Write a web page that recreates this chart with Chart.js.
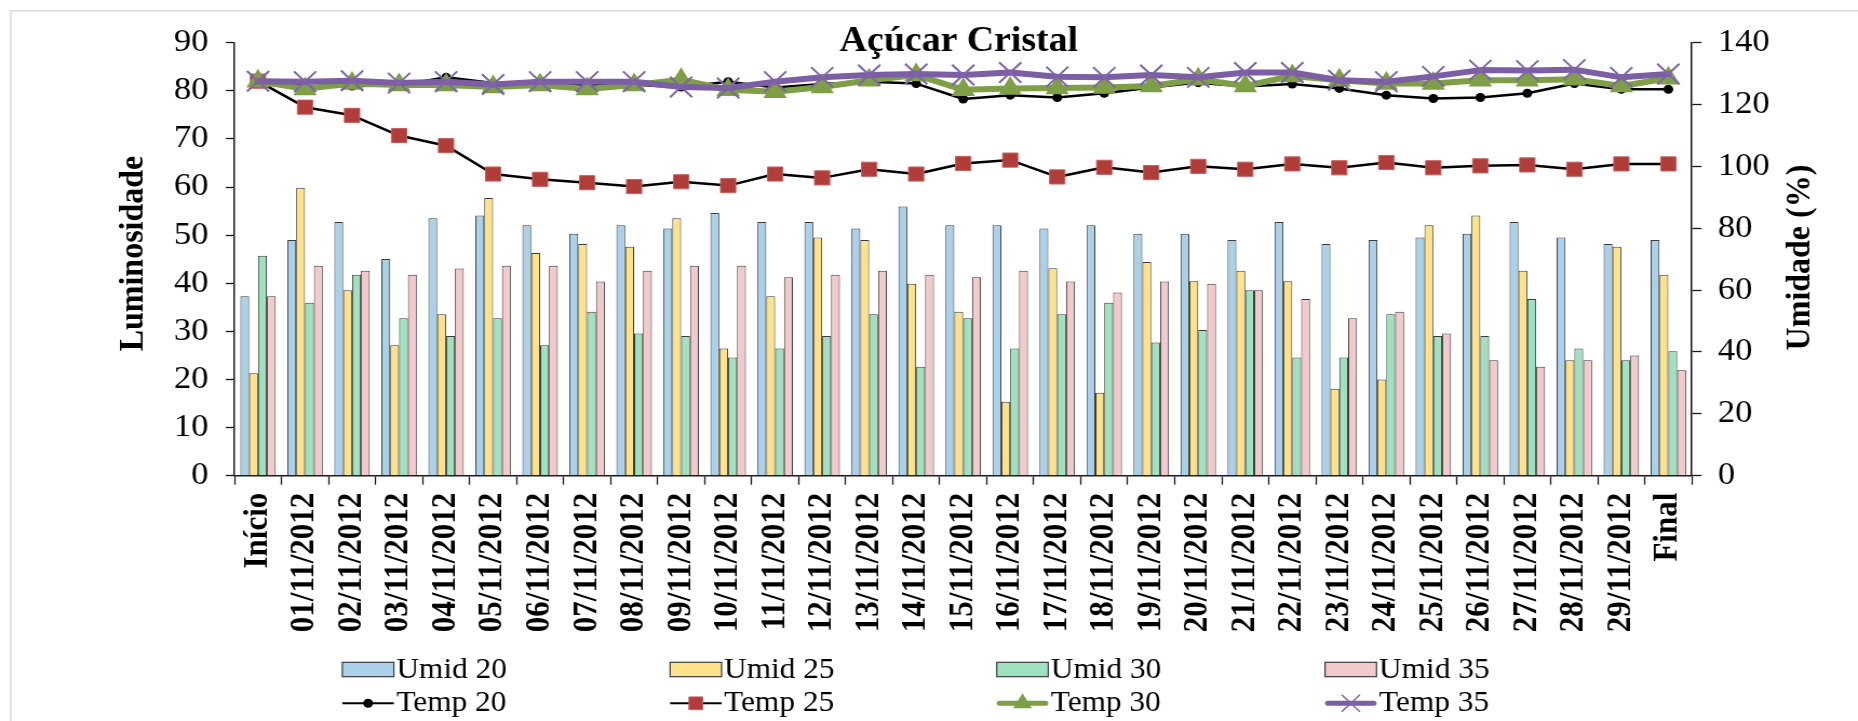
<!DOCTYPE html>
<html>
<head>
<meta charset="utf-8">
<title>Açúcar Cristal</title>
<script src="https://cdn.jsdelivr.net/npm/chart.js@4/dist/chart.umd.min.js"></script>
<style>
  html, body { margin: 0; padding: 0; background: #fff; overflow: hidden; }
  #frame {
    position: absolute; left: 0; top: 0;
    width: 1720px; height: 721px;
    transform: scaleX(1.08023); transform-origin: 0 0;
  }
</style>
</head>
<body>
<div id="frame"><canvas id="chart"></canvas></div>
<script>
// ---- data ----
const categories = [
  'Início', '01/11/2012', '02/11/2012', '03/11/2012', '04/11/2012', '05/11/2012',
  '06/11/2012', '07/11/2012', '08/11/2012', '09/11/2012', '10/11/2012', '11/11/2012',
  '12/11/2012', '13/11/2012', '14/11/2012', '15/11/2012', '16/11/2012', '17/11/2012',
  '18/11/2012', '19/11/2012', '20/11/2012', '21/11/2012', '22/11/2012', '23/11/2012',
  '24/11/2012', '25/11/2012', '26/11/2012', '27/11/2012', '28/11/2012', '29/11/2012',
  'Final'
];

// humidity (%), right axis
const umid20 = [58.0, 76.2, 82.0, 70.1, 83.2, 84.1, 81.0, 78.2, 81.0, 79.9, 84.9, 82.0, 82.0, 79.9, 87.0, 81.0,
                81.0, 79.9, 81.0, 78.2, 78.2, 76.2, 82.0, 74.9, 76.2, 77.0, 78.2, 82.0, 77.0, 74.9, 76.2];
const umid25 = [33.1, 93.1, 60.0, 42.2, 52.2, 89.8, 72.0, 74.9, 74.0, 83.2, 41.1, 58.0, 77.0, 76.2, 62.1, 53.0,
                23.9, 67.1, 26.8, 69.1, 62.9, 66.3, 62.9, 28.1, 31.1, 81.0, 84.1, 66.3, 37.3, 74.0, 65.0];
const umid30 = [71.1, 55.9, 65.0, 50.9, 45.2, 50.9, 42.2, 53.0, 46.0, 45.2, 38.2, 41.1, 45.2, 52.2, 35.2, 50.9,
                41.1, 52.2, 55.9, 43.1, 47.1, 60.0, 38.2, 38.2, 52.2, 45.2, 45.2, 57.1, 41.1, 37.3, 40.2];
const umid35 = [58.0, 67.9, 66.3, 65.0, 67.0, 67.9, 67.9, 62.8, 66.3, 67.9, 67.9, 64.2, 65.0, 66.3, 65.0, 64.2,
                66.3, 62.8, 59.2, 62.8, 62.1, 60.0, 57.1, 50.9, 53.0, 46.0, 37.3, 35.2, 37.3, 38.9, 34.1];

// luminosity, left axis
const temp20 = [82.0, 81.0, 81.0, 81.1, 82.8, 81.6, 81.4, 81.2, 81.2, 80.8, 81.9, 80.7, 81.4, 81.9, 81.5, 78.3,
                79.1, 78.6, 79.5, 80.7, 81.7, 80.9, 81.4, 80.5, 79.1, 78.4, 78.6, 79.5, 81.5, 80.3, 80.3];
const temp25 = [82.0, 76.6, 74.9, 70.7, 68.6, 62.7, 61.6, 60.9, 60.1, 61.1, 60.3, 62.7, 61.9, 63.7, 62.7, 64.9,
                65.6, 62.1, 64.1, 63.0, 64.3, 63.7, 64.8, 64.0, 65.1, 64.0, 64.4, 64.6, 63.7, 64.8, 64.8];
const temp30 = [82.0, 80.4, 81.5, 81.2, 81.2, 80.8, 81.2, 80.4, 81.2, 82.3, 80.2, 79.8, 80.8, 82.2, 83.3, 80.2,
                80.5, 80.6, 80.7, 81.0, 82.4, 81.0, 83.1, 82.2, 81.5, 81.5, 82.2, 82.2, 82.4, 81.0, 82.6];
const temp35 = [82.0, 81.9, 82.1, 81.6, 81.9, 81.3, 81.9, 81.9, 81.9, 80.8, 80.6, 81.9, 82.8, 83.3, 83.5, 83.3,
                83.8, 82.9, 82.8, 83.3, 82.8, 83.8, 83.8, 82.2, 81.9, 83.0, 84.3, 84.2, 84.4, 82.8, 83.5];

const lumTicks = [0, 10, 20, 30, 40, 50, 60, 70, 80, 90];
const umidTicks = [0, 20, 40, 60, 80, 100, 120, 140];

const chartTitle = 'Açúcar Cristal';
const leftTitle = 'Luminosidade';
const rightTitle = 'Umidade (%)';

// ---- styles ----
const SERIF = '"Liberation Serif", "Times New Roman", serif';
const AXIS = '#1a1a1a';
const BAR_EDGE = '#3c3c3c';

function barSet(label, data, fill, order) {
  return {
    type: 'bar', label, data, yAxisID: 'yR', order,
    backgroundColor: fill, borderColor: BAR_EDGE, borderWidth: 1,
    categoryPercentage: 0.755, barPercentage: 1.0
  };
}

function lineSet(label, data, o) {
  return Object.assign({
    type: 'line', label, data, yAxisID: 'yL',
    tension: 0, fill: false,
    borderJoinStyle: 'round', borderCapStyle: 'round',
    pointHoverRadius: 0
  }, o);
}

const datasets = [
  lineSet('Temp 35', temp35, {
    order: 0, borderColor: '#7b5ea3', borderWidth: 6,
    pointStyle: 'crossRot', pointRadius: 14.5, pointBorderWidth: 2,
    pointBorderColor: '#8064a8', pointBackgroundColor: '#8064a8'
  }),
  lineSet('Temp 30', temp30, {
    order: 1, borderColor: '#7e9f45', borderWidth: 6,
    pointStyle: 'triangle', pointRadius: 12.5, pointBorderWidth: 0,
    pointBackgroundColor: '#7e9f45', pointBorderColor: '#7e9f45'
  }),
  lineSet('Temp 25', temp25, {
    order: 2, borderColor: '#000000', borderWidth: 2.5,
    pointStyle: 'rect', pointRadius: 10, pointBorderWidth: 1,
    pointBackgroundColor: '#b13d3a', pointBorderColor: '#c4605d'
  }),
  lineSet('Temp 20', temp20, {
    order: 3, borderColor: '#000000', borderWidth: 2.5,
    pointStyle: 'circle', pointRadius: 4.5, pointBorderWidth: 0,
    pointBackgroundColor: '#000000', pointBorderColor: '#000000'
  }),
  barSet('Umid 20', umid20, '#aad0ea', 4),
  barSet('Umid 25', umid25, '#fee28a', 5),
  barSet('Umid 30', umid30, '#a0e1c0', 6),
  barSet('Umid 35', umid35, '#f3cacb', 7)
];

// ---- legend layout (two rows of four columns) ----
const legendRows = [
  ['Umid 20', 'Umid 25', 'Umid 30', 'Umid 35'],
  ['Temp 20', 'Temp 25', 'Temp 30', 'Temp 35']
];
const legendCols = [316.9, 620.3, 922.7, 1226.6];
const legendRowY = [669.5, 703.3];
const legendBaseY = [678.4, 711.2];

function drawMarker(ctx, style, x, y, r, fill, stroke, lw) {
  ctx.save();
  ctx.fillStyle = fill;
  ctx.strokeStyle = stroke;
  ctx.lineWidth = lw;
  ctx.beginPath();
  if (style === 'circle') {
    ctx.arc(x, y, r, 0, Math.PI * 2);
    ctx.fill();
  } else if (style === 'rect') {
    const h = r * Math.SQRT1_2;
    ctx.rect(x - h, y - h, 2 * h, 2 * h);
    ctx.fill();
    if (lw) ctx.stroke();
  } else if (style === 'triangle') {
    ctx.moveTo(x, y - r);
    ctx.lineTo(x + r * 0.866, y + r * 0.5);
    ctx.lineTo(x - r * 0.866, y + r * 0.5);
    ctx.closePath();
    ctx.fill();
  } else if (style === 'crossRot') {
    const d = r * Math.SQRT1_2;
    ctx.moveTo(x - d, y - d); ctx.lineTo(x + d, y + d);
    ctx.moveTo(x - d, y + d); ctx.lineTo(x + d, y - d);
    ctx.stroke();
  }
  ctx.restore();
}

const decor = {
  id: 'decor',
  beforeDraw(chart) {
    const ctx = chart.ctx;
    ctx.save();
    ctx.fillStyle = '#ffffff';
    ctx.fillRect(0, 0, chart.width, chart.height);
    // outer frame (top and left edges fall inside the canvas)
    ctx.strokeStyle = '#d9d9d9';
    ctx.lineWidth = 1.5;
    ctx.beginPath();
    ctx.moveTo(9.9, chart.height + 2);
    ctx.lineTo(9.9, 10.7);
    ctx.lineTo(chart.width + 2, 10.7);
    ctx.stroke();
    ctx.restore();
  },
  afterDraw(chart) {
    const ctx = chart.ctx;
    const area = chart.chartArea;
    ctx.save();
    ctx.fillStyle = '#000';

    // chart title
    ctx.font = 'bold 35px ' + SERIF;
    ctx.textAlign = 'center';
    ctx.textBaseline = 'alphabetic';
    ctx.fillText(chartTitle, (area.left + area.right) / 2 - 4, 51);

    // axis titles, both reading bottom to top
    ctx.font = 'bold 32px ' + SERIF;
    ctx.save();
    ctx.translate(131.7, 253.5);
    ctx.rotate(-Math.PI / 2);
    ctx.fillText(leftTitle, 0, 0);
    ctx.restore();
    ctx.save();
    ctx.translate(1675, 257.5);
    ctx.rotate(-Math.PI / 2);
    ctx.fillText(rightTitle, 0, 0);
    ctx.restore();

    // legend
    const boxW = 47.7, boxH = 14.4;
    ctx.font = '29px ' + SERIF;
    ctx.textAlign = 'left';
    legendRows.forEach((row, ri) => {
      row.forEach((name, ci) => {
        const ds = chart.data.datasets.find(d => d.label === name);
        const x = legendCols[ci];
        const cy = legendRowY[ri];
        if (ds.type === 'bar') {
          ctx.fillStyle = ds.backgroundColor;
          ctx.fillRect(x, cy - boxH / 2, boxW, boxH);
          ctx.strokeStyle = BAR_EDGE;
          ctx.lineWidth = 1.2;
          ctx.strokeRect(x, cy - boxH / 2, boxW, boxH);
        } else {
          ctx.save();
          ctx.strokeStyle = ds.borderColor;
          ctx.lineWidth = ds.borderWidth > 3 ? 5 : 2;
          ctx.lineCap = ds.borderWidth > 3 ? 'round' : 'butt';
          ctx.beginPath();
          const inset = ds.borderWidth > 3 ? 2.5 : 0;
          ctx.moveTo(x + inset, cy);
          ctx.lineTo(x + boxW - inset, cy);
          ctx.stroke();
          ctx.restore();
          const mr = { circle: 4.5, rect: 9, triangle: 10, crossRot: 12 }[ds.pointStyle];
          drawMarker(ctx, ds.pointStyle, x + boxW / 2, cy, mr,
                     ds.pointBackgroundColor, ds.pointBorderColor,
                     ds.pointStyle === 'crossRot' ? 1.5 : ds.pointBorderWidth);
        }
        ctx.fillStyle = '#000';
        ctx.fillText(name, x + boxW + 2.3, legendBaseY[ri]);
      });
    });
    ctx.restore();
  }
};

new Chart(document.getElementById('chart'), {
  data: { labels: categories, datasets },
  plugins: [decor],
  options: {
    responsive: true,
    maintainAspectRatio: false,
    animation: false,
    events: [],
    layout: { padding: { top: 42.7, left: 0, right: 0, bottom: 0 } },
    plugins: {
      legend: { display: false },
      title: { display: false },
      tooltip: { enabled: false }
    },
    scales: {
      x: {
        type: 'category',
        offset: true,
        border: { display: true, color: AXIS, width: 1.5 },
        grid: { offset: true, drawOnChartArea: false, drawTicks: true, tickLength: 9, tickColor: AXIS, tickWidth: 1.3 },
        ticks: {
          autoSkip: false, minRotation: 90, maxRotation: 90, padding: 8,
          color: '#000', font: { family: SERIF, size: 31, weight: 'bold' }
        },
        afterFit(s) { s.height = 245.3; }
      },
      yL: {
        type: 'linear', position: 'left', min: 0, max: 90,
        border: { display: true, color: AXIS, width: 1.5 },
        grid: { drawOnChartArea: false, drawTicks: true, tickLength: 8, tickColor: AXIS, tickWidth: 1.3 },
        ticks: { padding: 16, color: '#000', font: { family: SERIF, size: 32 } },
        afterBuildTicks(s) { s.ticks = lumTicks.map(v => ({ value: v })); },
        afterFit(s) { s.width = 217.1; }
      },
      yR: {
        type: 'linear', position: 'right', min: 0, max: 140,
        border: { display: true, color: AXIS, width: 1.5 },
        grid: { drawOnChartArea: false, drawTicks: true, tickLength: 9, tickColor: AXIS, tickWidth: 1.3 },
        ticks: { padding: 15, color: '#000', font: { family: SERIF, size: 32 } },
        afterBuildTicks(s) { s.ticks = umidTicks.map(v => ({ value: v })); },
        afterFit(s) { s.width = 153.8; }
      }
    }
  }
});
</script>
</body>
</html>
